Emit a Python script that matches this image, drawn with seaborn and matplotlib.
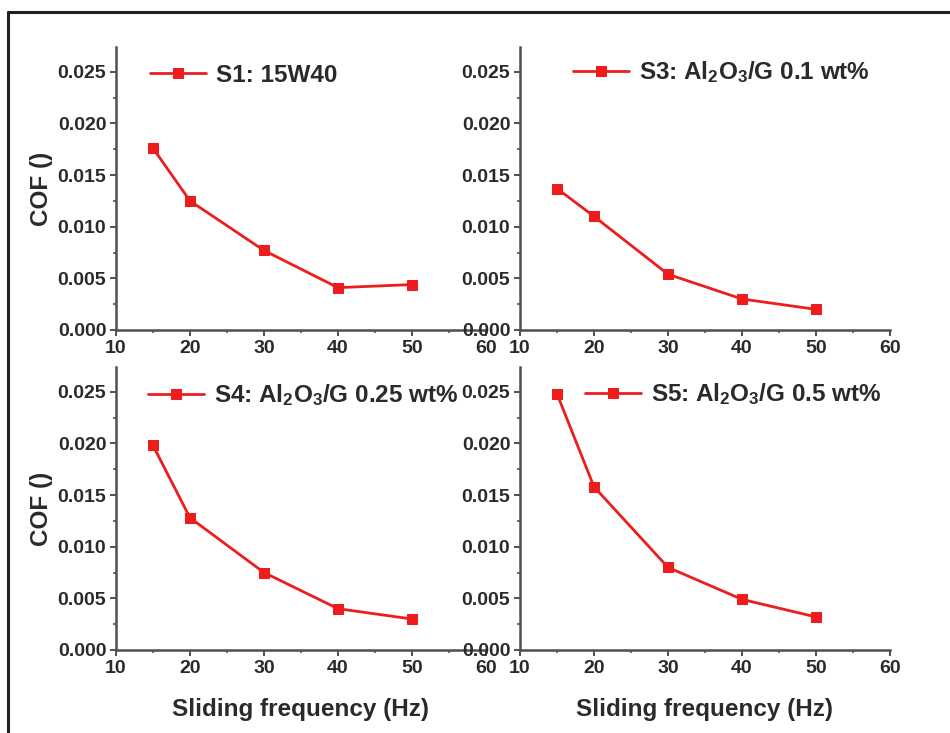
import numpy as np
import pandas as pd
import matplotlib
matplotlib.use("Agg")
import matplotlib.pyplot as plt
from matplotlib.lines import Line2D
from matplotlib.ticker import MultipleLocator, FormatStrFormatter
import seaborn as sns

sns.set_style("white")
plt.rcParams["font.family"] = ["Liberation Sans", "DejaVu Sans"]
plt.rcParams["font.weight"] = "bold"
plt.rcParams["mathtext.default"] = "regular"

# ---- data ----
freq = [15, 20, 30, 40, 50]
cof_s1 = [0.0176, 0.0125, 0.0077, 0.0041, 0.0044]
cof_s3 = [0.0137, 0.0110, 0.0054, 0.0030, 0.0020]
cof_s4 = [0.0198, 0.0128, 0.0075, 0.0040, 0.0030]
cof_s5 = [0.0248, 0.0158, 0.0080, 0.0049, 0.0032]
labels = ["S1: 15W40",
          "S3: Al$_2$O$_3$/G 0.1 wt%",
          "S4: Al$_2$O$_3$/G 0.25 wt%",
          "S5: Al$_2$O$_3$/G 0.5 wt%"]
series = [cof_s1, cof_s3, cof_s4, cof_s5]

df = pd.concat(
    [pd.DataFrame({"freq": freq, "cof": vals, "sample": lab})
     for lab, vals in zip(labels, series)],
    ignore_index=True)

# ---- layout ----
W, H = 950, 733
fig = plt.figure(figsize=(W / 100, H / 100), dpi=100)

# axes boxes in pixels (left, top, right, bottom)
boxes = [(116, 47, 486, 330), (520, 47, 890, 330),
         (116, 367, 486, 650), (520, 367, 890, 650)]
# legend anchor (x px from axes left, y px from axes top)
leg_pos = [(34, 28), (53, 25), (32, 28), (65, 27)]

red = "#ee1d1d"
axis_col = "#505050"
text_col = "#2a2a2a"

for i, (lab, box) in enumerate(zip(labels, boxes)):
    l, t, r, b = box
    ax = fig.add_axes([l / W, 1 - b / H, (r - l) / W, (b - t) / H])
    sub = df[df["sample"] == lab]
    sns.lineplot(data=sub, x="freq", y="cof", ax=ax, color=red,
                 marker="s", markersize=6.5, markeredgecolor=red,
                 linewidth=2.0, label=lab)

    ax.set_xlim(10, 60)
    ax.set_ylim(0, 0.0274)
    ax.xaxis.set_major_locator(MultipleLocator(10))
    ax.xaxis.set_minor_locator(MultipleLocator(5))
    ax.yaxis.set_major_locator(MultipleLocator(0.005))
    ax.yaxis.set_minor_locator(MultipleLocator(0.0025))
    ax.yaxis.set_major_formatter(FormatStrFormatter("%.3f"))

    for s in ["top", "right"]:
        ax.spines[s].set_visible(False)
    for s in ["left", "bottom"]:
        ax.spines[s].set_color(axis_col)
        ax.spines[s].set_linewidth(1.8)

    ax.tick_params(which="major", direction="out", length=4, width=1.4,
                   color=axis_col, labelsize=14, labelcolor=text_col, pad=3,
                   left=True, bottom=True)
    ax.tick_params(which="minor", direction="out", length=2.5, width=1.2,
                   color=axis_col, left=True, bottom=True)
    for tl in ax.get_xticklabels() + ax.get_yticklabels():
        tl.set_fontweight("bold")

    if i % 2 == 0:
        ax.set_ylabel("COF ()", fontsize=17.5, fontweight="bold",
                      color=text_col, labelpad=3)
    else:
        ax.set_ylabel("")
    if i >= 2:
        ax.set_xlabel("Sliding frequency (Hz)", fontsize=17.5,
                      fontweight="bold", color=text_col, labelpad=15)
    else:
        ax.set_xlabel("")

    lx, ly = leg_pos[i]
    ax.legend(loc="center left",
              bbox_to_anchor=(lx / (r - l), 1 - ly / (b - t)),
              frameon=False, borderpad=0, borderaxespad=0,
              handlelength=2.3, handletextpad=0.4,
              prop={"size": 17.5, "weight": "bold"}, labelcolor=text_col)

# outer frame (left and top edges only visible)
fig.add_artist(Line2D([8 / W, 8 / W], [0, 1 - 12 / H], color="#222222",
                      linewidth=2.2, transform=fig.transFigure))
fig.add_artist(Line2D([8 / W, 1], [1 - 12 / H, 1 - 12 / H], color="#222222",
                      linewidth=2.2, transform=fig.transFigure))

fig.savefig("out.png", dpi=100)
